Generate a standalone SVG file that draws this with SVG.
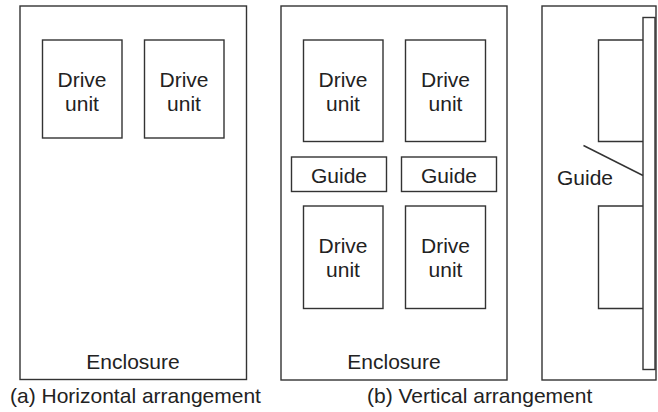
<svg xmlns="http://www.w3.org/2000/svg" width="658" height="412" viewBox="0 0 658 412">
  <style>
    .box { fill: #ffffff; stroke: #333333; stroke-width: 1.4; }
    .ln { fill: none; stroke: #333333; stroke-width: 1.4; }
    text { font-family: "Liberation Sans", Arial, sans-serif; font-size: 21px; fill: #222222; }
    .c { text-anchor: middle; }
  </style>
  <rect width="658" height="412" fill="#ffffff"/>

  <!-- (a) horizontal arrangement -->
  <g id="enclosure-a">
    <rect class="box" x="20" y="6" width="226.5" height="373.5"/>
    <text class="c" x="133" y="369">Enclosure</text>
  </g>
  <g id="drive-a1">
    <rect class="box" x="42.5" y="40" width="79.5" height="98"/>
    <text class="c" x="82" y="87">Drive</text>
    <text class="c" x="82" y="111">unit</text>
  </g>
  <g id="drive-a2">
    <rect class="box" x="144.5" y="40" width="79.5" height="98"/>
    <text class="c" x="184" y="87">Drive</text>
    <text class="c" x="184" y="111">unit</text>
  </g>

  <!-- (b) vertical arrangement, front view -->
  <g id="enclosure-b">
    <rect class="box" x="281" y="6" width="226" height="374"/>
    <text class="c" x="394" y="369">Enclosure</text>
  </g>
  <g id="drive-b1">
    <rect class="box" x="303.5" y="40" width="79.5" height="101.5"/>
    <text class="c" x="343" y="87">Drive</text>
    <text class="c" x="343" y="111">unit</text>
  </g>
  <g id="drive-b2">
    <rect class="box" x="405.5" y="40" width="80" height="101.5"/>
    <text class="c" x="445.5" y="87">Drive</text>
    <text class="c" x="445.5" y="111">unit</text>
  </g>
  <g id="guide-b1">
    <rect class="box" x="291.5" y="157" width="95" height="34.5"/>
    <text class="c" x="339" y="182.5">Guide</text>
  </g>
  <g id="guide-b2">
    <rect class="box" x="401.5" y="157" width="95" height="34.5"/>
    <text class="c" x="449" y="182.5">Guide</text>
  </g>
  <g id="drive-b3">
    <rect class="box" x="303.5" y="206" width="79.5" height="102.5"/>
    <text class="c" x="343" y="253">Drive</text>
    <text class="c" x="343" y="277">unit</text>
  </g>
  <g id="drive-b4">
    <rect class="box" x="405.5" y="206" width="80" height="102.5"/>
    <text class="c" x="445.5" y="253">Drive</text>
    <text class="c" x="445.5" y="277">unit</text>
  </g>

  <!-- (b) vertical arrangement, side view -->
  <g id="enclosure-side">
    <rect class="box" x="542" y="6" width="114" height="374"/>
  </g>
  <g id="drive-side-1">
    <polyline class="ln" points="643,40 598.5,40 598.5,141.5 643,141.5"/>
  </g>
  <g id="drive-side-2">
    <polyline class="ln" points="643,206 598.5,206 598.5,308.5 643,308.5"/>
  </g>
  <g id="guide-side">
    <rect class="box" x="643" y="17.5" width="12" height="352"/>
    <text x="557" y="185">Guide</text>
  </g>

  <g id="connectors">
    <line class="ln" x1="583.5" y1="145.5" x2="643" y2="175.5"/>
  </g>

  <!-- captions -->
  <g id="captions">
    <text x="10" y="403">(a) Horizontal arrangement</text>
    <text x="367" y="403">(b) Vertical arrangement</text>
  </g>
</svg>
